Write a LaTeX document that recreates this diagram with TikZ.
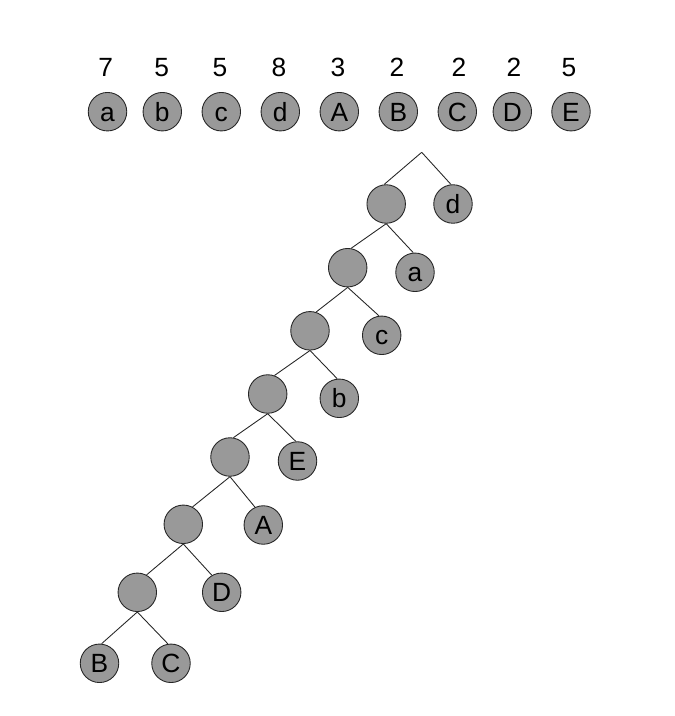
\documentclass[tikz,border=0pt]{standalone}
\usepackage{fontspec}
\setmainfont{Liberation Sans}
\usepackage{xcolor}
\usepackage{tikz}
\usetikzlibrary{positioning}

\tikzset{
  sym/.style={circle, draw=black!85, fill=black!40, line width=0.5pt,
    minimum size=0.77cm, inner sep=0pt, text height=11pt, text depth=0pt,
    font=\fontsize{15}{18}\selectfont},
  weight/.style={inner sep=0pt, text height=11pt, text depth=0pt,
    font=\fontsize{15}{18}\selectfont},
  branch/.style={line width=0.5pt, black!85}
}

\begin{document}
\begin{tikzpicture}[x=0.02cm, y=-0.02cm]
\useasboundingbox (0,0) rectangle (674,716);

% symbols with their counts
\foreach \s/\x/\w/\c in {a/107.5/105.7/7, b/162.3/161.7/5, c/221.3/220/5,
    d/280.3/279/8, A/339.3/338/3, B/398.3/397/2, C/457.3/459/2,
    D/512.3/514/2, E/571/569/5}
{
  \node[sym](q\s) at (\x,111.7) {\s};
  \node[weight](w\s) at (\w,66.7) {\c};
}

% the tree
\coordinate(root) at (421.7,152.3);

\node[sym](m1) at (386.2,204) {};
\node[sym](m2) at (347.7,267.7) {};
\node[sym](m3) at (310,330.8) {};
\node[sym](m4) at (267.7,394) {};
\node[sym](m5) at (230,457) {};
\node[sym](m6) at (183.3,524.3) {};
\node[sym](m7) at (137.3,592.3) {};

\node[sym](ld) at (453,204) {d};
\node[sym](la) at (415,272.3) {a};
\node[sym](lc) at (381.7,335.3) {c};
\node[sym](lb) at (339.3,398.3) {b};
\node[sym](lE) at (297.5,461) {E};
\node[sym](lA) at (263.3,525) {A};
\node[sym](lD) at (221.7,592.3) {D};
\node[sym](lB) at (99.5,663.3) {B};
\node[sym](lC) at (171,663.3) {C};

\draw[branch] (root) -- (m1.96);
\draw[branch] (root) -- (ld.96);

\foreach \p/\k/\a in {m1/m2/80, m1/la/95, m2/m3/72, m2/lc/98, m3/m4/70,
    m3/lb/96, m4/m5/80, m4/lE/95, m5/m6/62, m5/lA/115, m6/m7/62,
    m6/lD/120, m7/lB/84, m7/lC/99}
  \draw[branch] (\p.south) -- (\k.\a);

\end{tikzpicture}
\end{document}
